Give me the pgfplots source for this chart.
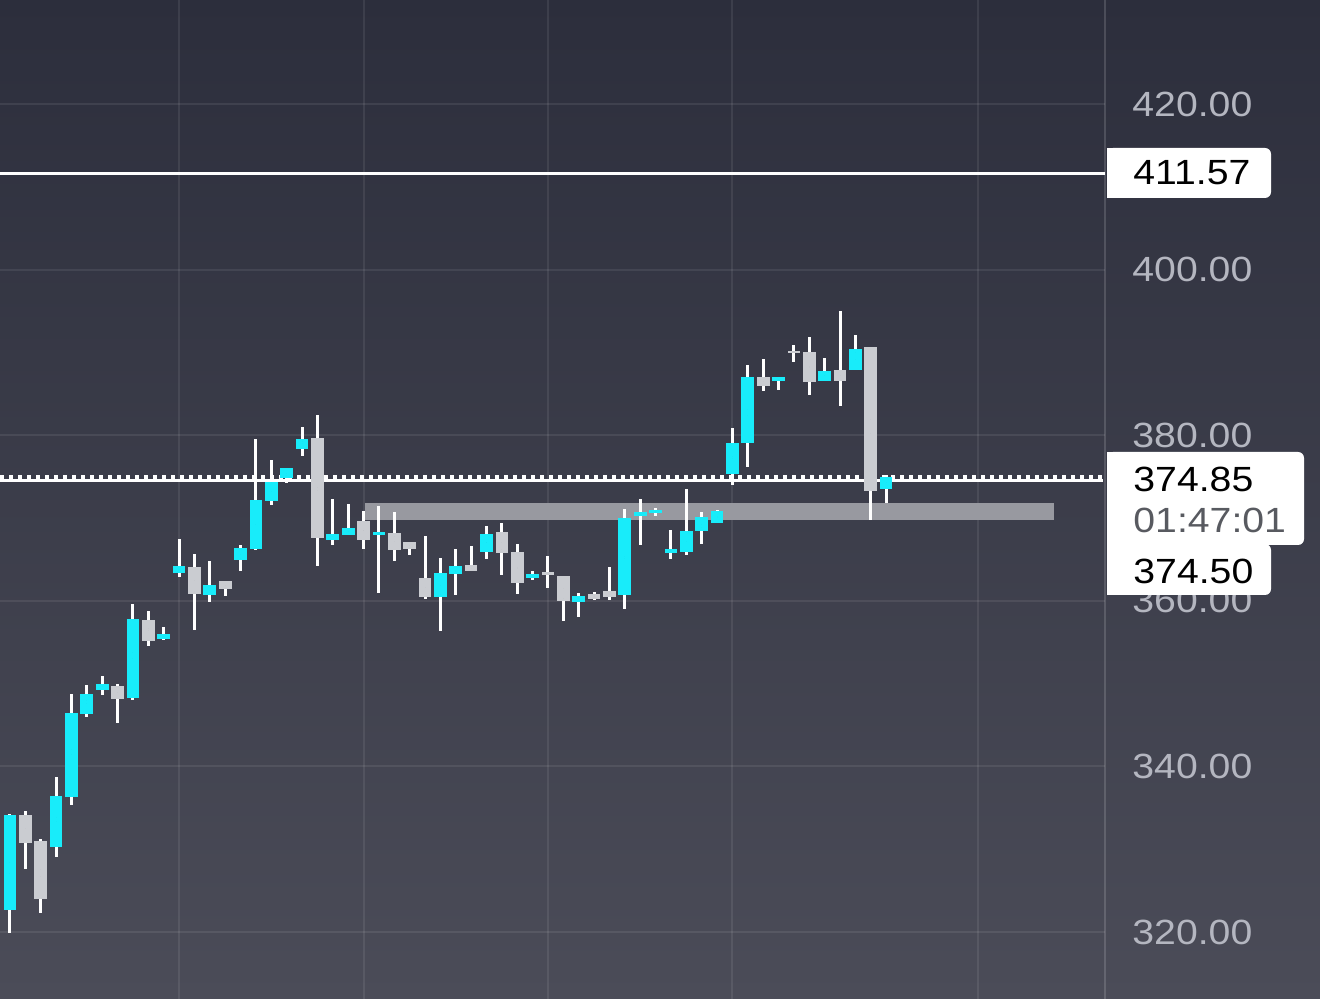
\documentclass[border=0pt]{standalone}
\usepackage{pgfplots}
\pgfplotsset{compat=1.18}
\usepackage{pgfplotstable}
\usepackage{fontspec}
\setmainfont{Liberation Sans}[FakeStretch=1.12]

\definecolor{bgtop}{RGB}{44,46,60}
\definecolor{bgbot}{RGB}{75,76,88}
\definecolor{upc}{RGB}{24,236,250}
\definecolor{dnc}{RGB}{202,204,209}
\definecolor{bandc}{RGB}{152,153,160}
\definecolor{ticktxt}{RGB}{180,182,192}
\definecolor{subtxt}{RGB}{88,90,96}

% index open high low close
\pgfplotstableread{
i o h l c
1 322.6 334.2 319.9 334.1
4 330.3 338.7 329.0 336.4
5 336.3 348.7 335.3 346.5
6 346.3 349.8 346.0 348.8
7 349.2 350.9 348.6 350.0
9 348.3 359.6 348.0 357.8
11 355.4 356.8 355.3 356.0
12 363.3 367.5 362.9 364.2
14 360.7 364.8 359.9 361.9
16 364.9 366.7 363.6 366.4
17 366.3 379.6 366.1 372.2
18 372.1 377.0 371.6 374.3
19 374.8 376.0 374.2 376.0
20 378.3 381.0 377.5 379.6
22 367.4 372.3 366.7 368.1
23 368.0 371.7 368.0 368.8
25 367.9 371.5 360.9 368.3
29 360.4 365.2 356.4 363.4
30 363.2 366.3 360.7 364.2
32 365.9 369.0 365.0 368.1
35 362.8 363.6 362.5 363.2
38 359.9 360.9 358.1 360.6
41 360.7 371.1 359.0 370.0
42 370.2 372.3 366.7 370.7
43 370.6 371.2 370.2 371.0
44 365.8 368.6 365.1 366.3
45 365.9 373.5 365.5 368.4
46 368.4 370.7 366.9 370.1
47 369.4 371.0 369.4 370.8
48 375.3 380.9 374.0 379.1
49 379.1 388.5 376.2 387.0
51 386.5 387.0 385.4 387.0
54 386.5 389.3 386.5 387.8
56 387.9 392.1 387.9 390.4
58 373.5 375.2 371.8 375.0
}\up

\pgfplotstableread{
i o h l c
2 334.1 334.6 327.6 330.8
3 331.0 331.2 322.3 324.0
8 349.7 350.0 345.3 348.2
10 357.7 358.8 354.5 355.2
13 364.1 365.7 356.5 360.8
15 362.4 362.4 360.6 361.4
21 379.7 382.4 364.2 367.6
24 369.6 370.8 366.3 367.3
26 368.2 370.7 364.8 366.1
27 367.1 367.1 365.5 366.3
28 362.8 367.8 360.2 360.4
31 364.3 366.6 363.6 363.6
33 368.3 369.4 363.1 365.8
34 365.9 366.9 360.8 362.2
36 363.5 365.4 361.5 363.1
37 363.0 363.0 357.6 360.0
39 360.8 361.1 360.1 360.2
40 361.2 364.1 360.1 360.4
50 387.0 389.2 385.3 386.0
52 390.2 390.9 388.9 389.9
53 390.0 391.8 384.9 386.4
55 387.9 395.0 383.5 386.6
57 390.6 390.6 369.8 373.3
}\down

\pgfplotsset{
  candle/.style 2 args={only marks, mark size=0pt, mark options={draw=none, fill=none},
    error bars/.cd, y dir=both, y explicit, error mark=none,
    error bar style={line width=#1, draw=#2}},
}

\begin{document}
\begin{tikzpicture}
\useasboundingbox (0,0) rectangle (660pt,499.5pt);
\shade[top color=bgtop, bottom color=bgbot] (0,0) rectangle (660pt,499.5pt);
\begin{axis}[
  at={(0,0)}, anchor=south west,
  scale only axis, width=552.5pt, height=499.5pt,
  xmin=0.35, xmax=72.24, ymin=311.91, ymax=432.56,
  axis line style={draw=none},
  major tick length=0pt,
  xtick={12,24,36,48,64}, xticklabels={},
  ytick={320,340,...,420},
  yticklabel pos=right,
  yticklabel style={anchor=west, inner sep=0pt, xshift=13.5pt, text=ticktxt, font=\fontsize{17.5}{20}\selectfont},
  /pgf/number format/fixed,
  /pgf/number format/fixed zerofill,
  /pgf/number format/precision=2,
  /pgf/number format/1000 sep={},
  /pgf/number format/assume math mode=true,
  grid=major,
  grid style={white, opacity=0.08, line width=1pt},
]
% support zone band
\addplot[bandc, line width=8.5pt] coordinates {(24.1,370.75) (68.92,370.75)};
% price lines
\addplot[white, line width=1.35pt] coordinates {(0.35,411.57) (72.24,411.57)};
\addplot[white, line width=1.2pt] coordinates {(0.35,374.55) (72.1,374.55)};
\addplot[white, line width=2.1pt, dash pattern=on 1.8pt off 2.7pt] coordinates {(0.35,374.92) (72.1,374.92)};
% wicks
\addplot[candle={1.5pt}{white}]
  table[x=i, y expr={(\thisrow{h}+\thisrow{l})/2}, y error expr={(\thisrow{h}-\thisrow{l})/2}] {\up};
\addplot[candle={1.5pt}{white}]
  table[x=i, y expr={(\thisrow{h}+\thisrow{l})/2}, y error expr={(\thisrow{h}-\thisrow{l})/2}] {\down};
% bodies
\addplot[candle={6.35pt}{upc}]
  table[x=i, y expr={(\thisrow{o}+\thisrow{c})/2}, y error expr={abs(\thisrow{c}-\thisrow{o})/2}] {\up};
\addplot[candle={6.35pt}{dnc}]
  table[x=i, y expr={(\thisrow{o}+\thisrow{c})/2}, y error expr={abs(\thisrow{c}-\thisrow{o})/2}] {\down};
\end{axis}
% right axis line
\draw[white, opacity=0.15, line width=1pt] (552.5pt,0) -- (552.5pt,499.5pt);
% price boxes
\fill[white, rounded corners=3pt] (553.5pt,400.5pt) rectangle (635.5pt,425.5pt);
\fill[white] (553.5pt,400.5pt) rectangle (570pt,425.5pt);
\node[anchor=west, inner sep=0pt, font=\fontsize{17.5}{20}\selectfont, text=black] at (566.5pt,413pt) {411.57};
\fill[white, rounded corners=3pt] (553.5pt,227pt) rectangle (652pt,273.5pt);
\fill[white, rounded corners=3pt] (553.5pt,202pt) rectangle (635.5pt,227.5pt);
\fill[white] (553.5pt,202pt) rectangle (570pt,273.5pt);
\node[anchor=west, inner sep=0pt, font=\fontsize{17.5}{20}\selectfont, text=black] at (566.5pt,260pt) {374.85};
\node[anchor=west, inner sep=0pt, font=\fontsize{17.5}{20}\selectfont, text=subtxt] at (566.5pt,239.5pt) {01:47:01};
\node[anchor=west, inner sep=0pt, font=\fontsize{17.5}{20}\selectfont, text=black] at (566.5pt,214pt) {374.50};
\end{tikzpicture}
\end{document}
